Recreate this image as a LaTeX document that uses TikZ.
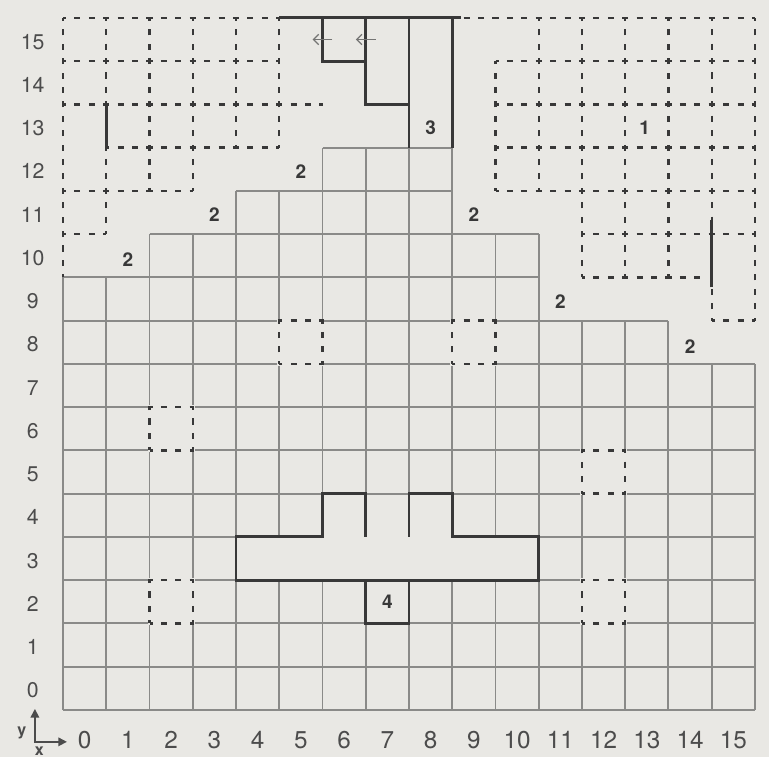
\documentclass[tikz,border=0pt]{standalone}
\usepackage{fontspec}
\setmainfont{TeX Gyre Heros}
\usetikzlibrary{arrows.meta}
\definecolor{paper}{HTML}{E9E8E4}
\definecolor{gridgray}{HTML}{8A8A88}
\definecolor{inkdark}{HTML}{383838}
\definecolor{labelgray}{HTML}{4C4C4C}

\begin{document}
\begin{tikzpicture}[
  gridline/.style={draw=gridgray, line width=1.3pt},
  wall/.style={draw=inkdark, line width=1.9pt},
  dashline/.style={draw=inkdark, line width=1.6pt,
                   dash pattern=on 1.4mm off 1.933mm, dash phase=0.7mm},
  erase/.style={draw=paper, line width=2.4pt},
  zonelabel/.style={font=\fontsize{12.5}{14}\selectfont\bfseries, text=inkdark},
  collabel/.style={font=\fontsize{16}{19}\selectfont, text=labelgray},
  rowlabel/.style={font=\fontsize{14}{17}\selectfont, text=labelgray},
  axislabel/.style={font=\fontsize{10.5}{12}\selectfont\bfseries, text=labelgray},
  hintarrow/.style={-{Straight Barb[length=1.2mm,width=2.4mm]}, draw=gridgray!85!black, line width=0.8pt},
]
  % Paper
  \fill[paper] (-1.457,-1.09) rectangle (16.324,16.413);
  \useasboundingbox (-1.457,-1.09) rectangle (16.324,16.413);

  % Solid floor grid (staircase)
  \draw[gridline] (0,0) grid (2,10);
  \draw[gridline] (2,0) grid (4,11);
  \draw[gridline] (4,0) grid (6,12);
  \draw[gridline] (6,0) grid (9,13);
  \draw[gridline] (9,0) grid (11,11);
  \draw[gridline] (11,0) grid (14,9);
  \draw[gridline] (14,0) grid (16,8);

  % Single dashed cells
  \foreach \c/\r in {2/2, 12/2, 2/6, 12/5, 5/8, 9/8} {
    \draw[erase] (\c,\r) rectangle ++(1,1);
    \draw[dashline] (\c,\r) rectangle ++(1,1);
  }

  % T-shaped block
  \fill[paper] (4,3) -- (11,3) -- (11,4) -- (9,4) -- (9,5) -- (6,5) -- (6,4) -- (4,4) -- cycle;
  \draw[gridline] (7,5) -- (8,5);
  \draw[wall] (7,4) -- (7,5) -- (6,5) -- (6,4) -- (4,4) -- (4,3) -- (11,3)
              -- (11,4) -- (9,4) -- (9,5) -- (8,5) -- (8,4);
  \draw[wall] (7,2) rectangle (8,3);

  % Dashed area, top left
  \draw[dashline] (0,16) -- (5,16);
  \draw[dashline] (0,15) -- (5,15);
  \draw[dashline] (0,14) -- (6,14);
  \draw[dashline] (1,13) -- (5,13);
  \draw[dashline] (0,12) -- (3,12);
  \draw[dashline] (0,11) -- (1,11);
  \draw[dashline] (0,10) -- (0,16);
  \draw[dashline] (1,16) -- (1,14);
  \draw[dashline] (1,13) -- (1,11);
  \draw[dashline] (2,12) -- (2,16);
  \draw[dashline] (3,12) -- (3,16);
  \draw[dashline] (4,13) -- (4,16);
  \draw[dashline] (5,13) -- (5,16);
  \draw[wall] (1,13) -- (1,14);

  % Dashed area, top right
  \draw[dashline] (9,16) -- (16,16);
  \foreach \y in {15,14,13,12} \draw[dashline] (10,\y) -- (16,\y);
  \draw[dashline] (12,11) -- (16,11);
  \draw[dashline] (12,10) -- (14.9,10);
  \draw[dashline] (15,9) -- (16,9);
  \draw[dashline] (10,12) -- (10,15);
  \draw[dashline] (11,12) -- (11,16);
  \foreach \x in {12,13,14} \draw[dashline] (\x,10) -- (\x,16);
  \draw[dashline] (15,16) -- (15,11.32);
  \draw[dashline] (15,9) -- (15,9.77);
  \draw[dashline] (16,9) -- (16,16);
  \draw[wall] (15,9.77) -- (15,11.32);

  % Walls of the top corridor
  \draw[wall] (5,16) -- (9.2,16);
  \draw[wall] (6,16) -- (6,15) -- (7,15);
  \draw[wall] (7,16) -- (7,14) -- (8,14);
  \draw[wall] (8,16) -- (8,13);
  \draw[wall] (9,16) -- (9,13);
  \coordinate (hintA) at (6.23,15.5);
  \coordinate (hintB) at (7.23,15.5);
  \draw[hintarrow] (hintA) -- ++(-0.46,0);
  \draw[hintarrow] (hintB) -- ++(-0.46,0);

  % Zone numbers
  \node[zonelabel] (zone1) at (13.45,13.45) {1};
  \node[zonelabel] (zone3) at (8.5,13.45) {3};
  \node[zonelabel] (zone4) at (7.5,2.5) {4};
  \foreach \x/\y [count=\k] in {1.5/10.4, 3.5/11.45, 5.5/12.45, 9.5/11.45, 11.5/9.45, 14.5/8.4}
    \node[zonelabel] (zone2\k) at (\x,\y) {2};

  % Axis numbers
  \foreach \i in {0,...,15} {
    \node[collabel] (col\i) at (\i+0.5,-0.7) {\i};
    \node[rowlabel] (row\i) at (-0.7,\i+0.45) {\i};
  }

  % Axis indicator
  \coordinate (axo) at (-0.65,-0.74);
  \coordinate (axx) at (0.09,-0.74);
  \coordinate (axy) at (-0.65,0.02);
  \draw[{Triangle[length=2mm,width=2mm]}-{Triangle[length=2mm,width=2mm]},
        draw=labelgray, line width=1pt] (axy) -- (axo) -- (axx);
  \node[axislabel] (ylab) at (-0.95,-0.53) {y};
  \node[axislabel] (xlab) at (-0.55,-0.95) {x};
\end{tikzpicture}
\end{document}
